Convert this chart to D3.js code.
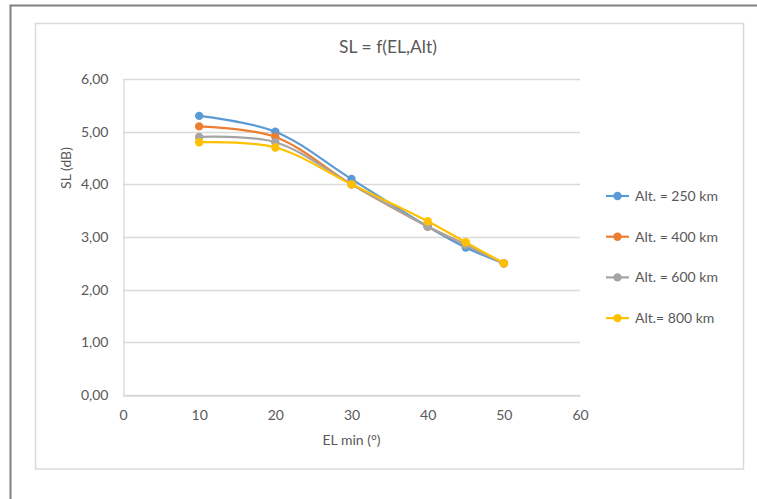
<!DOCTYPE html>
<html>
<head>
<meta charset="utf-8">
<script src="https://cdn.jsdelivr.net/npm/d3@7"></script>
<style>
  html, body { margin: 0; padding: 0; background: #fff; }
  svg { display: block; font-family: Lato, "Open Sans", sans-serif; }
</style>
</head>
<body>
<svg id="chart" width="757" height="499"></svg>
<script>
// Elevation angles (degrees)
const elevations = [10, 20, 30, 40, 45, 50];

// SL (dB) for each orbit altitude
const alt250 = [5.3, 5.0, 4.1, 3.2, 2.8, 2.5];
const alt400 = [5.1, 4.9, 4.0, 3.2, 2.85, 2.5];
const alt600 = [4.9, 4.8, 4.0, 3.2, 2.85, 2.5];
const alt800 = [4.8, 4.7, 4.0, 3.3, 2.9, 2.5];

const seriesNames = ["Alt. = 250 km", "Alt. = 400 km", "Alt. = 600 km", "Alt.= 800 km"];
const seriesColors = ["#5B9BD5", "#ED7D31", "#A5A5A5", "#FFC000"];

const xTicks = [0, 10, 20, 30, 40, 50, 60];
const yTicks = [0, 1, 2, 3, 4, 5, 6];

const series = [alt250, alt400, alt600, alt800].map((vals, i) => ({
  name: seriesNames[i],
  color: seriesColors[i],
  points: vals.map((v, j) => ({ x: elevations[j], y: v }))
}));

const svg = d3.select("#chart");
const textColor = "#595959";
const gridColor = "#d9d9d9";
const fontStack = "Lato, 'Open Sans', sans-serif";

// Outer frame (top and left edges)
svg.append("path")
  .attr("d", "M10.5,499 L10.5,5.5 L757,5.5")
  .attr("fill", "none")
  .attr("stroke", "#808080")
  .attr("stroke-width", 2);

// Chart area border
svg.append("rect")
  .attr("x", 35.5).attr("y", 23.5)
  .attr("width", 708).attr("height", 445.5)
  .attr("fill", "#fff")
  .attr("stroke", gridColor)
  .attr("stroke-width", 1.5);

const plot = { left: 123, right: 580, top: 79, bottom: 395 };

const x = d3.scaleLinear().domain([0, 60]).range([plot.left, plot.right]);
const y = d3.scaleLinear().domain([0, 6]).range([plot.bottom, plot.top]);

// Horizontal gridlines
svg.append("g")
  .selectAll("line")
  .data(yTicks)
  .join("line")
  .attr("x1", plot.left).attr("x2", plot.right)
  .attr("y1", d => Math.round(y(d)) + 0.5)
  .attr("y2", d => Math.round(y(d)) + 0.5)
  .attr("stroke", gridColor)
  .attr("stroke-width", 1.3);

// Y axis
const yAxis = svg.append("g")
  .attr("transform", `translate(${plot.left + 0.5},0)`)
  .call(d3.axisLeft(y).tickValues(yTicks).tickSize(0).tickPadding(15)
    .tickFormat(d => d3.format(".2f")(d).replace(".", ",")));
yAxis.select(".domain").attr("stroke", gridColor).attr("stroke-width", 1.3);
yAxis.selectAll("text")
  .attr("fill", textColor)
  .style("font-size", "14px")
  .style("font-family", fontStack);

// X axis
const xAxis = svg.append("g")
  .attr("transform", `translate(0,${plot.bottom + 0.5})`)
  .call(d3.axisBottom(x).tickValues(xTicks).tickSize(0).tickPadding(15));
xAxis.select(".domain").attr("stroke", gridColor).attr("stroke-width", 1.3);
xAxis.selectAll("text")
  .attr("fill", textColor)
  .style("font-size", "14px")
  .style("font-family", fontStack);

// Title
svg.append("text")
  .attr("x", 388).attr("y", 53)
  .attr("text-anchor", "middle")
  .attr("fill", textColor)
  .style("font-size", "17.5px")
  .text("SL = f(EL,Alt)");

// Axis titles
svg.append("text")
  .attr("x", (plot.left + plot.right) / 2).attr("y", 445)
  .attr("text-anchor", "middle")
  .attr("fill", textColor)
  .style("font-size", "14px")
  .text("EL min (°)");

svg.append("text")
  .attr("transform", "translate(71,168) rotate(-90)")
  .attr("text-anchor", "middle")
  .attr("fill", textColor)
  .style("font-size", "14px")
  .text("SL (dB)");

// Smoothed lines with markers
const line = d3.line()
  .x(d => x(d.x))
  .y(d => y(d.y))
  .curve(d3.curveCatmullRom.alpha(0.5));

const seriesG = svg.append("g")
  .selectAll("g")
  .data(series)
  .join("g");

seriesG.append("path")
  .attr("d", d => line(d.points))
  .attr("fill", "none")
  .attr("stroke", d => d.color)
  .attr("stroke-width", 2.2)
  .attr("stroke-linejoin", "round")
  .attr("stroke-linecap", "round");

seriesG.selectAll("circle")
  .data(d => d.points.map(p => ({ ...p, color: d.color })))
  .join("circle")
  .attr("cx", d => x(d.x))
  .attr("cy", d => y(d.y))
  .attr("r", 4.2)
  .attr("fill", d => d.color);

// Legend
const legend = svg.append("g")
  .selectAll("g")
  .data(series)
  .join("g")
  .attr("transform", (d, i) => `translate(606,${196 + i * 40.7})`);

legend.append("line")
  .attr("x1", 0).attr("x2", 23)
  .attr("y1", 0).attr("y2", 0)
  .attr("stroke", d => d.color)
  .attr("stroke-width", 2.2);

legend.append("circle")
  .attr("cx", 11.5).attr("cy", 0).attr("r", 4.2)
  .attr("fill", d => d.color);

legend.append("text")
  .attr("x", 29).attr("y", 0)
  .attr("dy", "0.35em")
  .attr("fill", textColor)
  .style("font-size", "14px")
  .text(d => d.name);
</script>
</body>
</html>
